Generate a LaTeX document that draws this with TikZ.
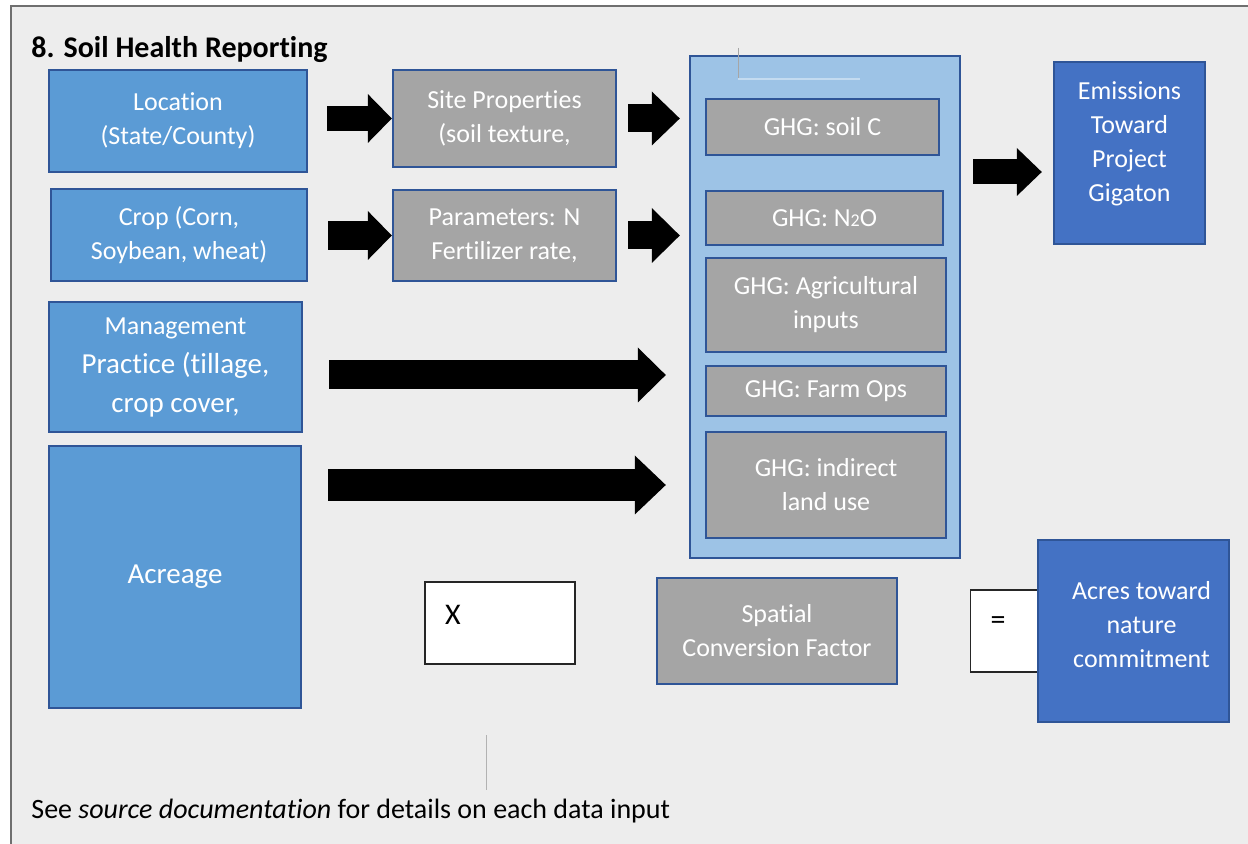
\documentclass[tikz,border=0pt]{standalone}
\usepackage{fontspec}
\setmainfont[Ligatures=NoCommon]{Carlito}
\usetikzlibrary{arrows.meta}
\definecolor{pageGray}{HTML}{EDEDED}
\definecolor{frameGray}{HTML}{6F6F6F}
\definecolor{inputBlue}{HTML}{5B9BD5}
\definecolor{groupBlue}{HTML}{9DC3E6}
\definecolor{resultBlue}{HTML}{4472C4}
\definecolor{termGray}{HTML}{A5A5A5}
\definecolor{edgeBlue}{HTML}{2F5597}
\newcommand{\boxFont}{\fontsize{13}{17}\selectfont}
\newcommand{\bigFont}{\fontsize{14.5}{19.5}\selectfont}
\newcommand{\inputColumn}{%%
  %% The four data inputs on the left.
  \node[inputStyle,minimum width=129pt,minimum height=51pt] (loc) at (178,121) {Location\\(State/County)};
  \node[inputStyle,minimum width=128pt,minimum height=46pt] (crop) at (179,235) {Crop (Corn,\\Soybean, wheat)};
  \node[inputStyle,minimum width=126.5pt,minimum height=65pt,font=\bigFont] (mgmt) at (175.5,367) {{\boxFont Management}\\Practice (tillage,\\crop cover,};
  \node[inputStyle,minimum width=126pt,minimum height=131pt,font=\bigFont] (acre) at (175,577) {Acreage};
  %% The derived parameters.
  \node[termStyle,minimum width=111.5pt,minimum height=48.5pt] (site) at (504.5,118.5) {Site Properties\\(soil texture,};
  \node[termStyle,minimum width=111.5pt,minimum height=45.5pt] (par) at (504.5,235.5) {Parameters: N\\Fertilizer rate,};
}
\newcommand{\ghgStack}{%%
  %% The frame that groups the greenhouse gas terms.
  \node[groupStyle,minimum width=135pt,minimum height=251pt] (ghg) at (825,307) {};
  %% An empty text frame left at the top.
  \draw[gray!70,line width=0.4pt] (738,48) -- (738,80);
  \draw[groupBlue!60!white,line width=0.8pt] (738,79) -- (860,79);
  %% The five terms.
  \node[termStyle,minimum width=116.5pt,minimum height=28pt] (soilC) at (822.5,127) {GHG: soil C};
  \node[termStyle,minimum width=118.5pt,minimum height=27pt] (nTwoO) at (824.5,218) {GHG: N{\fontsize{9}{9}\selectfont 2}O};
  \node[termStyle,minimum width=120pt,minimum height=47pt] (agri) at (826,305) {GHG: Agricultural\\inputs};
  \node[termStyle,minimum width=120pt,minimum height=25pt] (farm) at (826,391) {GHG: Farm Ops};
  \node[termStyle,minimum width=120pt,minimum height=53pt] (ind) at (826,485) {GHG: indirect\\land use};
}
\begin{document}
\begin{tikzpicture}[%%
  x=0.5pt,y=-0.5pt,%%
  inputStyle/.style={draw=edgeBlue,line width=1.2pt,fill=inputBlue,text=white,align=center,inner sep=0pt,font=\boxFont},%%
  termStyle/.style={inputStyle,fill=termGray},%%
  groupStyle/.style={inputStyle,fill=groupBlue},%%
  resultStyle/.style={inputStyle,fill=resultBlue},%%
  labelStyle/.style={text=white,align=center,inner sep=0pt,font=\boxFont},%%
  signStyle/.style={draw=black!85,line width=0.9pt,fill=white,inner sep=0pt},%%
  blockArrow/.style n args={3}{draw=black,line width=#1,-{Triangle[width=#2,length=#3,line width=0pt]}},%%
]
%%
%%
\useasboundingbox (0,0) rectangle (1248,844);
%% The page and its frame.
\fill[white] (0,0) rectangle (1248,844);
\fill[pageGray] (11,6) rectangle (1248,844);
\draw[frameGray,line width=1pt] (1250,6) -- (11,6) -- (11,846);
%% Title and note.
\node[anchor=west,inner sep=0pt,font=\fontsize{15}{18}\selectfont\bfseries] (title) at (31,50) {8. Soil Health Reporting};
\node[anchor=west,inner sep=0pt,font=\fontsize{14}{17}\selectfont] (note) at (31,811) {See \textit{source documentation} for details on each data input};
\draw[gray!60,line width=0.4pt] (486,735) -- (486,790);
%%
%%
\inputColumn
\ghgStack
%% The results on the right.
\node[resultStyle,minimum width=75.5pt,minimum height=91pt] (emis) at (1129.5,153) {};
\node[labelStyle] (emisText) at ([yshift=4.5pt]emis.center) {Emissions\\Toward\\Project\\Gigaton};
%% The product that gives the acres.
\node[signStyle,minimum width=75pt,minimum height=41pt] (xBox) at (500,623) {};
\node[inner sep=0pt,font=\fontsize{15}{18}\selectfont] (xSign) at (453,615) {X};
\node[termStyle,minimum width=120pt,minimum height=53pt] (spatial) at (777,631) {Spatial\\Conversion Factor};
\node[signStyle,minimum width=49.5pt,minimum height=41pt] (eqBox) at (1020,631) {};
\node[inner sep=0pt,font=\fontsize{15}{18}\selectfont] (eqSign) at (998,623) {=};
\node[resultStyle,minimum width=95.5pt,minimum height=91pt] (acres) at (1133.5,631) {};
\node[labelStyle] (acresText) at ([yshift=3.25pt,xshift=4pt]acres.center) {Acres toward\\nature\\commitment};
%%
%%
%% The block arrows.
\coordinate (mgmtOut) at ([yshift=-4pt]mgmt.east);
\coordinate (ghgOut) at ([yshift=67.5pt]ghg.east);
\draw[blockArrow={12.5pt}{24.5pt}{12pt},shorten <=9.5pt] (loc.east |- site.west) -- (site.west);
\draw[blockArrow={14pt}{27pt}{14pt},shorten <=5.5pt,shorten >=4.5pt] (site.east) -- (ghg.west |- site.east);
\draw[blockArrow={14.5pt}{24.5pt}{12pt},shorten <=10pt] (crop.east |- par.west) -- (par.west);
\draw[blockArrow={14pt}{27.5pt}{14pt},shorten <=5.5pt,shorten >=4.5pt] (par.east) -- (ghg.west |- par.east);
\draw[blockArrow={14.5pt}{27.5pt}{14pt},shorten <=13pt,shorten >=11.5pt] (mgmtOut) -- (ghg.west |- mgmtOut);
\draw[blockArrow={16pt}{29.5pt}{15.5pt},shorten <=13pt,shorten >=11.5pt] (acre.east |- ind.west) -- (ghg.west |- ind.west);
\draw[blockArrow={12.5pt}{24pt}{12.5pt},shorten <=6pt,shorten >=5.5pt] (ghgOut) -- (emis.west |- ghgOut);
\end{tikzpicture}
\end{document}
